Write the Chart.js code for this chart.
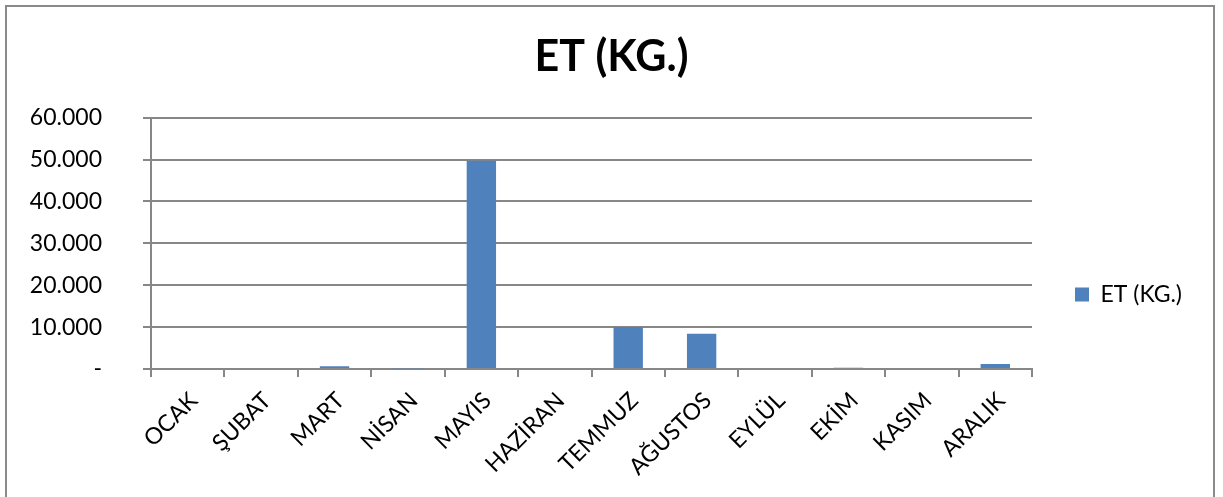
<!DOCTYPE html>
<html>
<head>
<meta charset="utf-8">
<script src="https://cdn.jsdelivr.net/npm/chart.js@4.4.1/dist/chart.umd.min.js"></script>
<style>
  html, body { margin: 0; padding: 0; background: #fff; }
  #wrap { position: relative; width: 1223px; height: 497px; }
</style>
</head>
<body>
<div id="wrap"><canvas id="c"></canvas></div>
<script>
const categories = ['OCAK', 'ŞUBAT', 'MART', 'NİSAN', 'MAYIS', 'HAZİRAN', 'TEMMUZ', 'AĞUSTOS', 'EYLÜL', 'EKİM', 'KASIM', 'ARALIK'];
const seriesName = 'ET (KG.)';
const etValues = [0, 0, 650, 150, 49700, 0, 10000, 8400, 0, 300, 0, 1200];
const yTickValues = [0, 10000, 20000, 30000, 40000, 50000, 60000];
const yTickLabels = ['-', '10.000', '20.000', '30.000', '40.000', '50.000', '60.000'];

const FONT = 'Lato, "Open Sans", sans-serif';
const GRID = '#878787';

const borderPlugin = {
  id: 'outerBorder',
  beforeDraw(chart) {
    const ctx = chart.ctx;
    ctx.save();
    ctx.fillStyle = '#ffffff';
    ctx.fillRect(0, 0, chart.width, chart.height);
    ctx.strokeStyle = '#8a8a8a';
    ctx.lineWidth = 2;
    ctx.strokeRect(6, 6, 1208, 500);
    ctx.restore();
  }
};

const legendPos = {
  id: 'legendPos',
  afterInit(chart) {
    const lg = chart.legend;
    if (!lg || lg._patched) return;
    const origFit = lg.fit.bind(lg);
    lg.fit = function () { origFit(); this.width = 191; };
    lg._patched = true;
  },
  afterLayout(chart) {
    const lg = chart.legend;
    if (!lg) return;
    const h = lg.bottom - lg.top;
    lg.left = 1065;
    lg.right = 1223;
    lg.top = 273;
    lg.bottom = 273 + h;
  }
};

new Chart(document.getElementById('c'), {
  type: 'bar',
  data: {
    labels: categories,
    datasets: [{
      label: seriesName,
      data: etValues,
      backgroundColor: '#4F81BD',
      borderWidth: 0,
      categoryPercentage: 1.0,
      barPercentage: 0.4
    }]
  },
  options: {
    responsive: true,
    maintainAspectRatio: false,
    animation: false,
    layout: { padding: { left: 0, right: 0, top: 0, bottom: 0 } },
    plugins: {
      title: {
        display: true,
        text: seriesName,
        color: '#000',
        font: { family: FONT, size: 43, weight: 'bold' },
        padding: { top: 31, bottom: 35 }
      },
      legend: {
        display: true,
        position: 'right',
        align: 'start',
        fullSize: false,
        labels: {
          color: '#000',
          font: { family: FONT, size: 23 },
          boxWidth: 14,
          boxHeight: 14,
          padding: 10
        }
      },
      tooltip: { enabled: false }
    },
    scales: {
      x: {
        offset: true,
        grid: { display: true, drawOnChartArea: false, drawTicks: true, tickLength: 8, color: GRID, offset: true, lineWidth: 2 },
        border: { display: true, color: GRID, width: 2 },
        ticks: {
          color: '#000',
          font: { family: FONT, size: 23 },
          autoSkip: false,
          maxRotation: 45,
          minRotation: 45,
          padding: 10,
          labelOffset: 6
        },
        afterFit(s) { s.height = 128; }
      },
      y: {
        min: 0,
        max: 60000,
        afterBuildTicks(s) { s.ticks = yTickValues.map(v => ({ value: v })); },
        grid: { color: GRID, lineWidth: 2, tickLength: 8, drawTicks: true },
        border: { display: true, color: GRID, width: 2 },
        ticks: {
          color: '#000',
          font: { family: FONT, size: 23 },
          padding: 41,
          callback(v) { const i = yTickValues.indexOf(v); return i >= 0 ? yTickLabels[i] : ''; }
        },
        afterFit(s) { s.width = 151; }
      }
    }
  },
  plugins: [borderPlugin, legendPos]
});
</script>
</body>
</html>
